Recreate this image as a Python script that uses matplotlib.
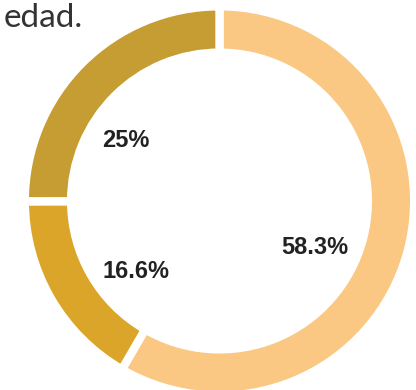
import matplotlib.pyplot as plt

labels = ['58.3%', '16.6%', '25%']
values = [58.3, 16.6, 25.0]
colors = ['#FAC882', '#DAA528', '#C59D32']
label_pos = [(0.49, -0.24), (-0.43, -0.36), (-0.48, 0.31)]

fig = plt.figure(figsize=(4.16, 3.90), dpi=100)
half = 194.7
cx, cy = 219.5, 390 - 201
ax = fig.add_axes([(cx - half) / 416, (cy - half) / 390, 2 * half / 416, 2 * half / 390])

ax.pie(values, colors=colors, startangle=90, counterclock=False, radius=1.0,
       wedgeprops=dict(width=0.238, edgecolor='white', linewidth=6))

for lab, (x, y) in zip(labels, label_pos):
    ax.text(x, y, lab, ha='center', va='center', fontsize=17,
            fontweight='bold', color='#222222', family='Liberation Sans')

ax.set_xlim(-1, 1)
ax.set_ylim(-1, 1)
ax.set_aspect('equal')
ax.axis('off')

fig.text(4 / 416, 1 - 27 / 390, 'edad.', ha='left', va='baseline', fontsize=24,
         color='#333333', family='Lato')

fig.savefig('out.png', dpi=100)
